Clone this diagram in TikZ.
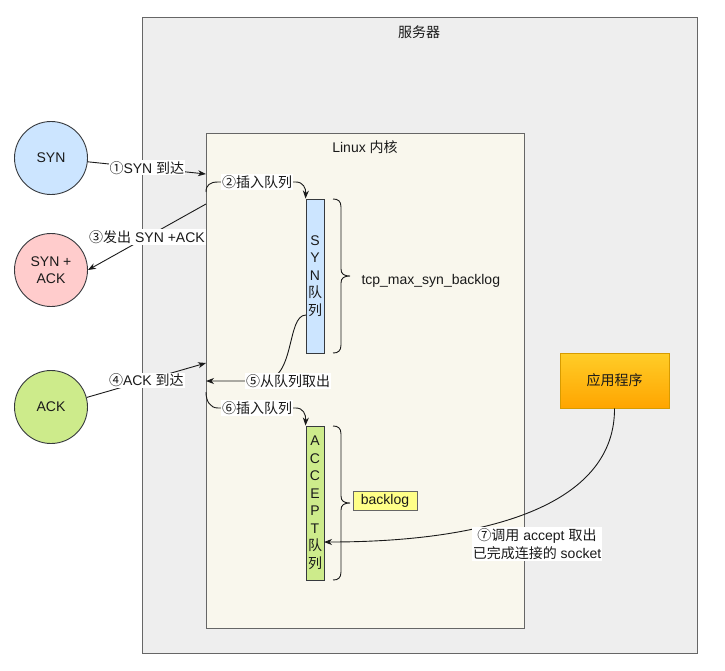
\documentclass[tikz,border=0pt]{standalone}
\usepackage{fontspec}
\setmainfont{Liberation Sans}
\newfontfamily\cjk{Noto Sans CJK SC}
\newcommand{\zh}[1]{{\cjk #1}}
\usetikzlibrary{arrows.meta}
\definecolor{cserver}{HTML}{EEEEEE}
\definecolor{ckernel}{HTML}{F9F7ED}
\definecolor{cframe}{HTML}{666666}
\definecolor{cdark}{HTML}{36393D}
\definecolor{cblue}{HTML}{CCE5FF}
\definecolor{cred}{HTML}{FFCCCC}
\definecolor{cgreen}{HTML}{CDEB8B}
\definecolor{cyellow}{HTML}{FFFF88}
\definecolor{corangeA}{HTML}{FFCD28}
\definecolor{corangeB}{HTML}{FFA500}
\definecolor{corangeD}{HTML}{D79B00}
\definecolor{ctext}{HTML}{1A1A1A}
\tikzset{
  box/.style={draw=cframe, line width=0.9pt, inner sep=0pt, outer sep=0pt},
  circ/.style={circle, draw=cdark, line width=0.9pt, minimum size=73pt, inner sep=0pt, align=center, text=ctext},
  queue/.style={draw=cdark, line width=0.9pt, minimum width=18pt, minimum height=154pt, inner sep=0pt, align=center, text=ctext, font=\fontsize{14}{17.5}\selectfont},
  arr/.style={draw=ctext, line width=0.9pt, -{Stealth[length=8pt,width=6pt,inset=2.5pt]}},
  lbl/.style={fill=white, inner sep=1pt, text=ctext},
  brc/.style={draw=ctext, line width=0.9pt},
}
\begin{document}
\begin{tikzpicture}[x=1pt, y=-1pt, font=\fontsize{14}{17}\selectfont]
\useasboundingbox (0,0) rectangle (725,670);
% containers
\node[box, fill=cserver, minimum width=555pt, minimum height=636pt, anchor=north west] (server) at (142,17) {};
\node[text=ctext] (serverlbl) at (419,32) {\zh{服务器}};
\node[box, fill=ckernel, minimum width=318pt, minimum height=495pt, anchor=north west] (kernel) at (206,133) {};
\node[text=ctext] (kernellbl) at (365,147) {Linux \zh{内核}};
% circles
\node[circ, fill=cblue] (syn) at (51,158) {SYN};
\node[circ, fill=cred] (synack) at (51,270) {SYN +\\ACK};
\node[circ, fill=cgreen] (ack) at (51,407) {ACK};
% queues
\node[queue, fill=cblue] (synq) at (315,276) {S\\Y\\N\\\zh{队}\\\zh{列}};
\node[queue, fill=cgreen] (accq) at (315,503) {A\\C\\C\\E\\P\\T\\\zh{队}\\\zh{列}};
% braces
\draw[brc] (333,199) .. controls (338,199) and (341,201) .. (341,207) -- (341,269) .. controls (341,274) and (344,276) .. (350,276) .. controls (344,276) and (341,278) .. (341,283) -- (341,345) .. controls (341,351) and (338,353) .. (333,353);
\draw[brc] (333,426) .. controls (338,426) and (341,428) .. (341,434) -- (341,496) .. controls (341,501) and (344,503) .. (350,503) .. controls (344,503) and (341,505) .. (341,510) -- (341,572) .. controls (341,578) and (338,580) .. (333,580);
\node[text=ctext, anchor=west] (synbl) at (358,281) {tcp\_max\_syn\_backlog};
\node[draw=cframe, line width=0.9pt, fill=cyellow, minimum width=64pt, minimum height=19pt, inner sep=0pt, text=ctext] (backlog) at (385,500.5) {backlog};
% application
\node[draw=corangeD, line width=0.9pt, top color=corangeA, bottom color=corangeB, minimum width=109pt, minimum height=55pt, inner sep=0pt, text=ctext] (app) at (614.5,380.5) {\zh{应用程序}};
% connector end points on the kernel border
\coordinate (k1) at (206,174);
\coordinate (k2) at (206,192);
\coordinate (k3) at (206,204);
\coordinate (k4) at (206,363);
\coordinate (k5) at (206,381);
\coordinate (k6) at (206,392);
\coordinate (q5) at (306,315);
\coordinate (q7) at (324,542);
% connectors
\draw[arr] (syn) -- node[lbl] {\zh{①}SYN \zh{到达}} (k1);
\draw[arr] (k2) .. controls (206,185) and (210,182) .. (218,182) -- node[lbl] {\zh{②插入队列}} (296,182) .. controls (303,182) and (306,188) .. (synq.north west);
\draw[arr] (k3) -- node[lbl] {\zh{③发出} SYN +ACK} (synack.east);
\draw[arr] (ack.15) -- node[lbl] {\zh{④}ACK \zh{到达}} (k4);
\draw[arr] (q5) .. controls (286,315) and (296,381) .. (262,381) -- (k5) node[lbl] at (288,381) {\zh{⑤从队列取出}};
\draw[arr] (k6) .. controls (206,401) and (210,408) .. (218,408) -- node[lbl] {\zh{⑥插入队列}} (296,408) .. controls (303,408) and (306,414) .. (accq.north west);
\draw[arr] (app.south) .. controls (615,500) and (500,542) .. (q7) node[lbl, align=center, font=\fontsize{14}{18}\selectfont] at (537,544) {\zh{⑦调用} accept \zh{取出}\\\zh{已完成连接的} socket};
\end{tikzpicture}
\end{document}
